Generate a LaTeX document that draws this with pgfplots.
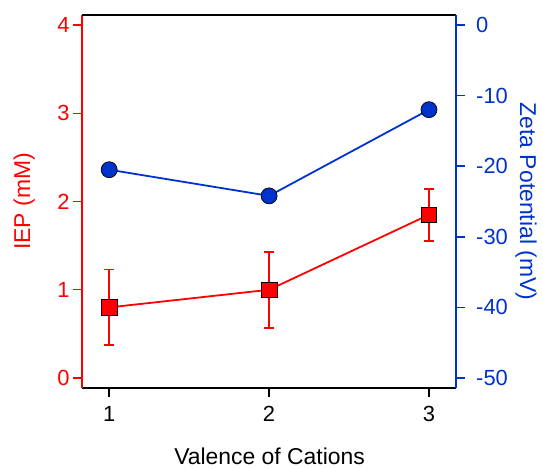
\documentclass[border=0pt]{standalone}
\usepackage{pgfplots}
\pgfplotsset{compat=1.18}
\usepackage{fontspec}
\setmainfont{Liberation Sans}
\definecolor{zblue}{RGB}{0,51,204}
\definecolor{ired}{RGB}{255,0,0}
\begin{document}
\begin{tikzpicture}
\pgfplotsset{
  common/.style={
    scale only axis,
    width=373.7bp, height=373bp,
    xmin=0.83, xmax=3.167,
    tick align=outside,
    major tick length=9bp,
    /pgf/number format/assume math mode=true,
    tick label style={font=\fontsize{22}{26}\selectfont},
    label style={font=\fontsize{23}{27}\selectfont},
    every tick/.style={line width=1.4pt},
    clip=false,
  }
}
\begin{axis}[common, name=ax,
  axis x line*=bottom, axis y line*=left,
  ymin=-0.113, ymax=4.113,
  xtick={1,2,3},
  ytick={0,1,2,3,4},
  x axis line style={black, line width=1.6pt},
  y axis line style={ired, line width=1.6pt},
  x tick style={black, line width=1.4pt},
  y tick style={ired, line width=1.4pt},
  yticklabel style={text=ired},
  xticklabel style={yshift=-6bp},
  xlabel={Valence of Cations},
  ylabel={IEP (mM)},
  xlabel style={at={(axis description cs:0.502,-0.184)}, anchor=center},
  ylabel style={at={(axis description cs:-0.155,0.5)}, anchor=center, rotate=0, text=ired},
]
\coordinate (A) at (rel axis cs:0,0);
\addplot[ired, line width=1.8pt, mark=square*, mark size=7.8bp,
  mark options={fill=ired, draw=black, line width=0.7pt, solid},
  error bars/.cd, y dir=both, y explicit,
  error bar style={ired, line width=1.8pt},
  error mark options={rotate=90, mark size=5bp, line width=1.8pt, ired}]
coordinates {
 (1,0.80) +- (0,0.43)
 (2,1.00) +- (0,0.43)
 (3,1.85) +- (0,0.295)
};
\end{axis}
\begin{axis}[common,
  axis x line*=top, axis y line*=right,
  ymin=-51.41, ymax=1.41,
  xtick=\empty,
  ytick={-50,-40,-30,-20,-10,0},
  x axis line style={black, line width=1.6pt},
  y axis line style={zblue, line width=1.6pt},
  y tick style={zblue, line width=1.4pt},
  yticklabel style={text=zblue, xshift=8bp},
  ylabel={Zeta Potential (mV)},
  ylabel style={at={(axis description cs:1.188,0.5)}, anchor=center, rotate=180, text=zblue},
]
\addplot[zblue, line width=1.8pt, mark=*, mark size=8bp,
  mark options={fill=zblue, draw=black, line width=0.7pt}]
coordinates {
 (1,-20.5)
 (2,-24.2)
 (3,-12.0)
};
\end{axis}
\pgfresetboundingbox
\path (A) ++(-82bp,-81bp) rectangle ++(543bp,469bp);
\end{tikzpicture}
\end{document}
